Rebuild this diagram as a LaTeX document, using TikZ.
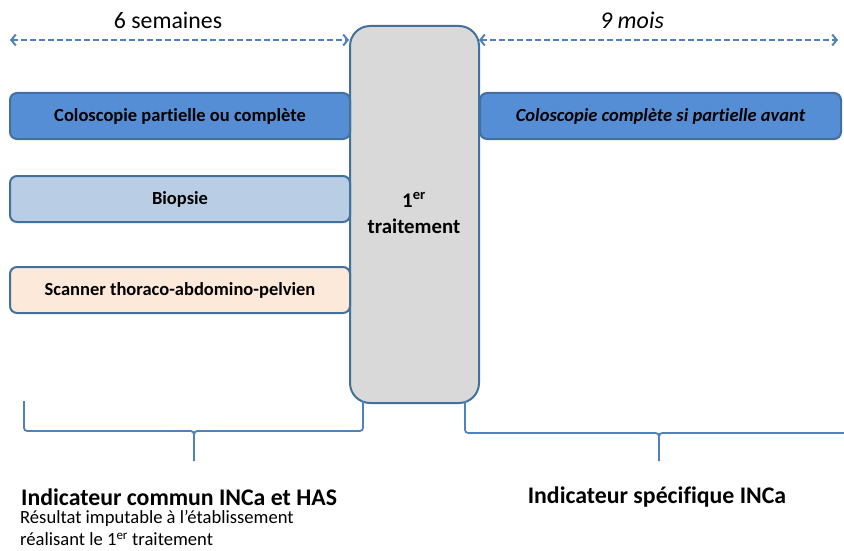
\documentclass[tikz,border=0pt]{standalone}
\usepackage{fontspec}
\setmainfont{Carlito}[Ligatures=NoCommon]
\usetikzlibrary{arrows.meta}
\definecolor{boxblue}{HTML}{558ED5}
\definecolor{lightblue}{HTML}{B9CDE5}
\definecolor{peach}{HTML}{FDE9D9}
\definecolor{greyfill}{HTML}{D9D9D9}
\definecolor{edgeblue}{HTML}{41719C}
\definecolor{linkblue}{HTML}{4F81BD}
\tikzset{
  bar/.style={draw=edgeblue, line width=2pt, rounded corners=7pt, minimum height=46pt, inner sep=0pt, font=\fontsize{18.5}{22}\selectfont\bfseries, text=black, anchor=north west},
  span/.style={linkblue, line width=2pt, dash pattern=on 6pt off 3pt, {Straight Barb[length=4.5pt,width=11pt]}-{Straight Barb[length=4.5pt,width=11pt]}},
  brace/.style={linkblue, line width=1.8pt},
}
\begin{document}
\begin{tikzpicture}[x=1pt,y=-1pt]
\useasboundingbox (0,0) rectangle (844,551);
% central box
\node[draw=edgeblue, fill=greyfill, line width=2pt, rounded corners=20pt, minimum width=129pt, minimum height=377pt, inner sep=0pt, anchor=north west] (trt) at (349,25) {};
\node[font=\fontsize{20.8}{26}\selectfont\bfseries, align=center] (trtlbl) at (414,213) {1\textsuperscript{er}\\traitement};
% bars
\node[bar, fill=boxblue, minimum width=340pt] (colo) at (9,92) {Coloscopie partielle ou complète};
\node[bar, fill=lightblue, minimum width=340pt] (bio) at (9,175) {Biopsie};
\node[bar, fill=peach, minimum width=340pt] (scan) at (9,266) {Scanner thoraco-abdomino-pelvien};
\node[bar, fill=boxblue, minimum width=361pt, font=\fontsize{18.5}{22}\selectfont\bfseries\itshape] (colo2) at (479,92) {Coloscopie complète si partielle avant};
% spans
\coordinate (l0) at (10,40);
\coordinate (l1) at (349,40);
\coordinate (r0) at (479,40);
\coordinate (r1) at (838,40);
\draw[span] (l0) -- (l1);
\draw[span] (r0) -- (r1);
\node[font=\fontsize{23.8}{28}\selectfont] (six) at (168,20) {6 semaines};
\node[font=\fontsize{24}{28}\selectfont\itshape] (nine) at (632,20) {9 mois};
% braces
\draw[brace] (24,401) -- (24,424) .. controls (24,431) .. (31,431) -- (187,431) .. controls (194,431) .. (194,439) -- (194,461);
\draw[brace] (194,439) .. controls (194,431) .. (201,431) -- (356,431) .. controls (363,431) .. (363,424) -- (363,401);
\draw[brace] (465,401) -- (465,426) .. controls (465,433) .. (472,433) -- (652,433) .. controls (659,433) .. (659,441) -- (659,461);
\draw[brace] (659,441) .. controls (659,433) .. (666,433) -- (846,433);
% bottom texts
\node[font=\fontsize{23.8}{28}\selectfont\bfseries, anchor=west, inner sep=0pt] (ind1) at (21,497) {Indicateur commun INCa et HAS};
\node[font=\fontsize{18.6}{22}\selectfont, anchor=north west, align=left, inner sep=0pt] (res) at (20,510) {Résultat imputable à l’établissement\\réalisant le 1\textsuperscript{er} traitement};
\node[font=\fontsize{23.8}{28}\selectfont\bfseries] (ind2) at (657,497) {Indicateur spécifique INCa};
\end{tikzpicture}
\end{document}
